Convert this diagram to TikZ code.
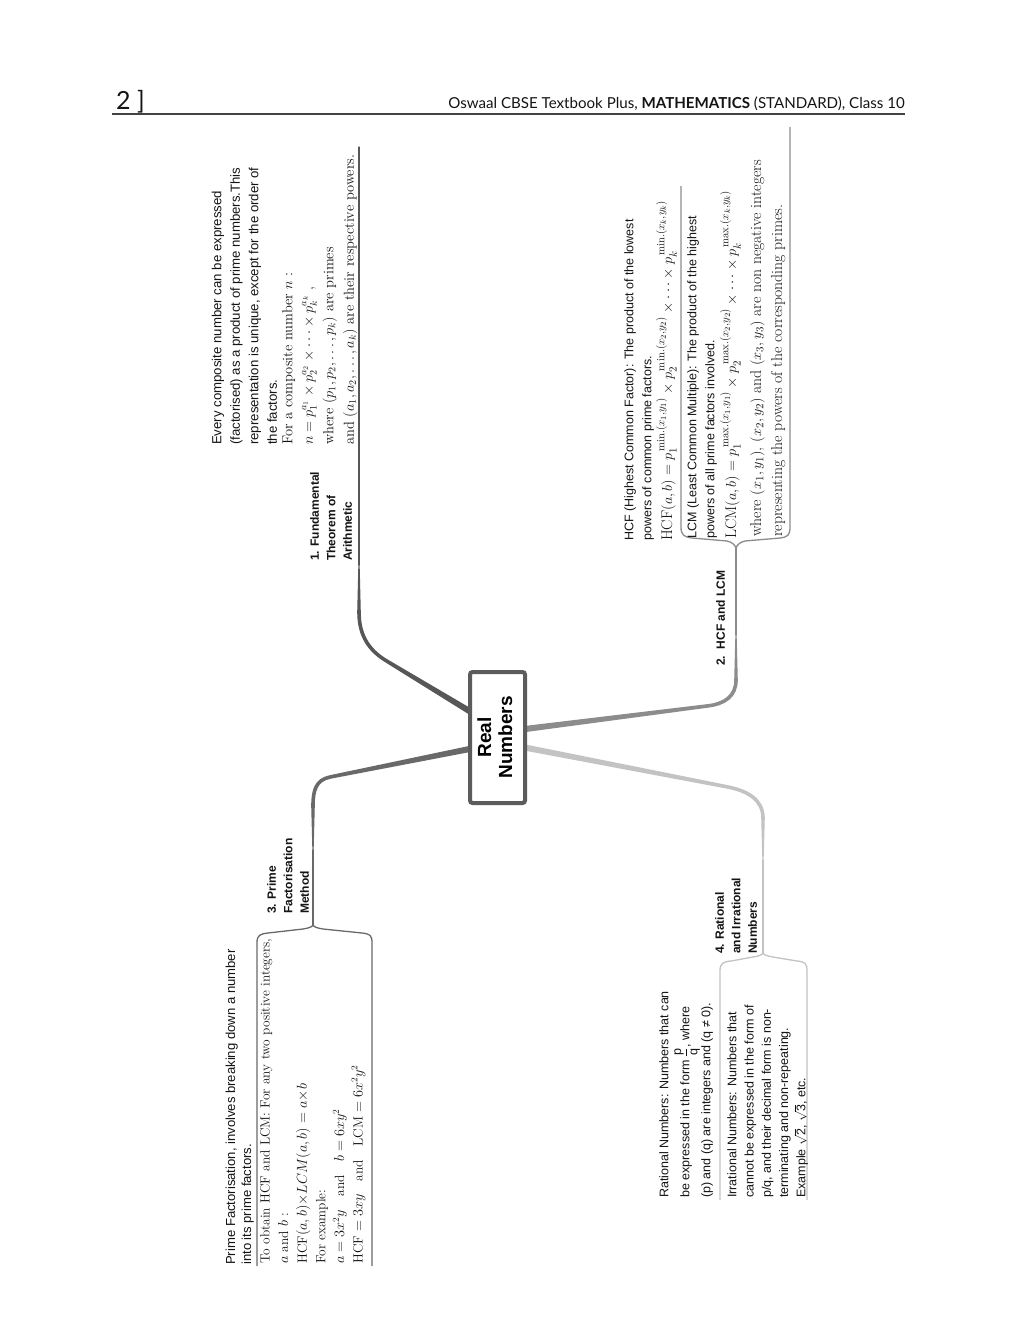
\documentclass[tikz,border=0pt]{standalone}
\usepackage{fontspec}
\usepackage{amsmath}
\usepackage{graphicx}
\setsansfont{Liberation Sans}
\newfontfamily\hdrfont{Lato}
\usetikzlibrary{calc}
\pgfdeclarelayer{back}
\pgfdeclarelayer{bg}
\pgfsetlayers{back,bg,main}
\definecolor{brA}{HTML}{575757}
\definecolor{brB}{HTML}{8C8C8C}
\definecolor{brC}{HTML}{696969}
\definecolor{brD}{HTML}{C3C3C3}
\definecolor{boxc}{HTML}{5C5C5C}
\definecolor{ink}{HTML}{141414}
\newcommand\mmTaper[5]{\fill[#1] ($(#2)!#4!90:(#3)$) -- ($(#3)!#5!-90:(#2)$) -- ($(#3)!#5!90:(#2)$) -- ($(#2)!#4!-90:(#3)$) -- cycle;}
\tikzset{
  rt/.style={rotate=90, anchor=north west, inner sep=0pt, align=left, text=ink},
  sanstext/.style={rt, font=\sffamily\fontsize{12.5}{18}\selectfont},
  sertext/.style={rt, font=\rmfamily\fontsize{14.5}{20.5}\selectfont},
  mathline/.style={rt, font=\rmfamily\fontsize{15.5}{20}\selectfont},
  lbl/.style={rt, font=\sffamily\bfseries\fontsize{12}{16.5}\selectfont},
  thinline/.style={line width=1.3pt, line cap=round, line join=round},
  bracestyle/.style={line width=1.3pt, line join=round},
}
\begin{document}
\begin{tikzpicture}[x=1pt,y=-1pt]
\useasboundingbox (0,0) rectangle (1024,1325);
\begin{pgfonlayer}{back}
\fill[white] (0,0) rectangle (1024,1325);
\end{pgfonlayer}

% header
\node[anchor=base west, inner sep=0pt, font=\hdrfont\fontsize{25}{25}\selectfont, text=ink] (pgno) at (116,109) {2 ]};
\node[anchor=base east, inner sep=0pt, font=\hdrfont\fontsize{15.1}{16}\selectfont, text=ink] (title) at (905,108) {Oswaal CBSE Textbook Plus, \textbf{MATHEMATICS} (STANDARD), Class 10};
\draw[line width=1.1pt, ink!80] (112,114) -- (905,114);

% central node
\node[draw=boxc, line width=4pt, rounded corners=2.5pt, fill=white, minimum width=55pt, minimum height=131pt, inner sep=0pt] (root) at (497.5,737.5)
  {\rotatebox{90}{\fontsize{19}{21}\selectfont\sffamily\bfseries\begin{tabular}{@{}c@{}}Real\\Numbers\end{tabular}}};

% labels
\node[lbl] (L1) at (310,561) {1. Fundamental\\Theorem of\\Arithmetic};
\node[lbl] (L2) at (716,666) {2.\ \ HCF and LCM};
\node[lbl] (L3) at (267,914) {3. Prime\\Factorisation\\Method};
\node[lbl] (L4) at (715,954) {4. Rational\\and Irrational\\Numbers};

% branch 1 content
\node[sanstext, font=\sffamily\fontsize{13.2}{18.5}\selectfont] (t1a) at (211.5,445) {Every composite number can be expressed\\(factorised) as a product of prime numbers.This\\representation is unique, except for the order of\\the factors.};
\node[sertext] (t1b) at (282,445) {For a composite number $n$ :\\$n = p_1^{a_1}\times p_2^{a_2}\times\cdots\times p_k^{a_k}$ ,\\where $(p_1,p_2,\ldots,p_k)$ are primes\\and $(a_1,a_2,\ldots,a_k)$ are their respective powers.};

% branch 2 content
\node[sanstext] (t2a) at (624,541) {HCF (Highest Common Factor): The product of the lowest\\powers of common prime factors.};
\node[mathline] (t2b) at (656,541) {$\mathrm{HCF}(a,b)=p_1^{\,\mathrm{min.}(x_1,y_1)}\times p_2^{\,\mathrm{min.}(x_2,y_2)}\times\cdots\times p_k^{\,\mathrm{min.}(x_k,y_k)}$};
\node[sanstext] (t2c) at (687,539) {LCM (Least Common Multiple): The product of the highest\\powers of all prime factors involved.};
\node[mathline] (t2d) at (720,539) {$\mathrm{LCM}(a,b)=p_1^{\,\mathrm{max.}(x_1,y_1)}\times p_2^{\,\mathrm{max.}(x_2,y_2)}\times\cdots\times p_k^{\,\mathrm{max.}(x_k,y_k)}$};
\node[rt, font=\rmfamily\fontsize{15.7}{21}\selectfont] (t2e) at (750,537) {where $(x_1,y_1)$, $(x_2,y_2)$ and $(x_3,y_3)$ are non negative integers\\representing the powers of the corresponding primes.};

% branch 3 content
\node[sanstext, font=\sffamily\fontsize{13.1}{16}\selectfont] (t3a) at (225.5,1265) {Prime Factorisation, involves breaking down a number\\into its prime factors.};
\node[rt, font=\rmfamily\fontsize{13.4}{18.6}\selectfont] (t3b) at (260,1264) {To obtain HCF and LCM: For any two positive integers,\\$a$ and $b$ :\\$\mathrm{HCF}(a,b){\times}LCM(a,b)=a{\times}b$\\For example:\\$a=3x^2y\quad\text{and}\quad b=6xy^2$\\$\mathrm{HCF}=3xy\quad\text{and}\quad\mathrm{LCM}=6x^2y^2$};

% branch 4 content
\node[sanstext, font=\sffamily\fontsize{12.5}{21}\selectfont] (t4a) at (659,1198) {Rational Numbers: Numbers that can\\be expressed in the form $\dfrac{\text{p}}{\text{q}}$, where\\(p) and (q) are integers and (q ≠ 0).};
\node[sanstext, font=\sffamily\fontsize{12.5}{17.3}\selectfont] (t4b) at (727,1198) {Irrational Numbers: Numbers that\\cannot be expressed in the form of\\p/q, and their decimal form is non-\\terminating and non-repeating.\\Example $\sqrt{\text{2}}$, $\sqrt{\text{3}}$, etc.};

\begin{pgfonlayer}{bg}
% branch 1
\coordinate (b1s) at ($(root.north west)!0.32!(root.south west)+(5,0)$);
\coordinate (b1a) at (385,660);
\coordinate (b1c) at (359,612);
\coordinate (b1d) at (359,565);
\coordinate (b1e) at (359,147);
\mmTaper{brA}{b1s}{b1a}{3.1pt}{1.8pt}
\draw[brA, line width=3.6pt, line cap=round] (b1a) .. controls (366,648) and (359,632) .. (b1c);
\mmTaper{brA}{b1c}{b1d}{1.8pt}{0.65pt}
\draw[brA, thinline] (b1d) -- (b1e);

% branch 2
\coordinate (b2s) at ($(root.north east)!0.44!(root.south east)+(-5,0)$);
\coordinate (b2a) at (707,706);
\coordinate (b2c) at (736,680);
\coordinate (b2d) at (736,635);
\coordinate (b2tip) at (736,548);
\mmTaper{brB}{b2s}{b2a}{3.1pt}{1.8pt}
\draw[brB, line width=3.6pt, line cap=round] (b2a) .. controls (725,704) and (736,696) .. (b2c);
\mmTaper{brB}{b2c}{b2d}{1.8pt}{0.65pt}
\draw[brB, thinline] (b2d) -- (b2tip);
\draw[brB, bracestyle] (681,186) -- (681,527) .. controls (681,535) and (684,537) .. (692,538) -- (727,541) .. controls (732,542) and (735,545) .. (b2tip) .. controls (737,545) and (740,542) .. (745,541) -- (780,538) .. controls (788,537) and (790,535) .. (790,527) -- (790,127);

% branch 3
\coordinate (b3s) at ($(root.north west)!0.58!(root.south west)+(5,0)$);
\coordinate (b3a) at (330,777);
\coordinate (b3c) at (313,806);
\coordinate (b3d) at (313,850);
\coordinate (b3tip) at (313,925);
\mmTaper{brC}{b3s}{b3a}{3.1pt}{1.8pt}
\draw[brC, line width=3.6pt, line cap=round] (b3a) .. controls (316,780) and (313,790) .. (b3c);
\mmTaper{brC}{b3c}{b3d}{1.8pt}{0.65pt}
\draw[brC, thinline] (b3d) -- (b3tip);
\draw[brC, bracestyle] (257,1266) -- (257,943) .. controls (257,935) and (260,934) .. (268,933) -- (303,929) .. controls (309,928) and (312,927) .. (b3tip) .. controls (314,927) and (317,928) .. (323,929) -- (362,933) .. controls (370,934) and (372,935) .. (372,943) -- (372,1266);

% branch 4
\coordinate (b4s) at ($(root.north east)!0.57!(root.south east)+(-5,0)$);
\coordinate (b4a) at (728,787);
\coordinate (b4c) at (763,818);
\coordinate (b4d) at (763,860);
\coordinate (b4tip) at (763,953);
\mmTaper{brD}{b4s}{b4a}{3.1pt}{1.8pt}
\draw[brD, line width=3.6pt, line cap=round] (b4a) .. controls (748,791) and (763,800) .. (b4c);
\mmTaper{brD}{b4c}{b4d}{1.8pt}{0.65pt}
\draw[brD, thinline] (b4d) -- (b4tip);
\draw[brD, bracestyle] (720,1200) -- (720,971) .. controls (720,963) and (723,962) .. (731,961) -- (753,957) .. controls (759,956) and (762,955) .. (b4tip) .. controls (764,955) and (767,956) .. (773,957) -- (797,961) .. controls (805,962) and (807,963) .. (807,971) -- (807,1200);
\end{pgfonlayer}
\end{tikzpicture}
\end{document}
